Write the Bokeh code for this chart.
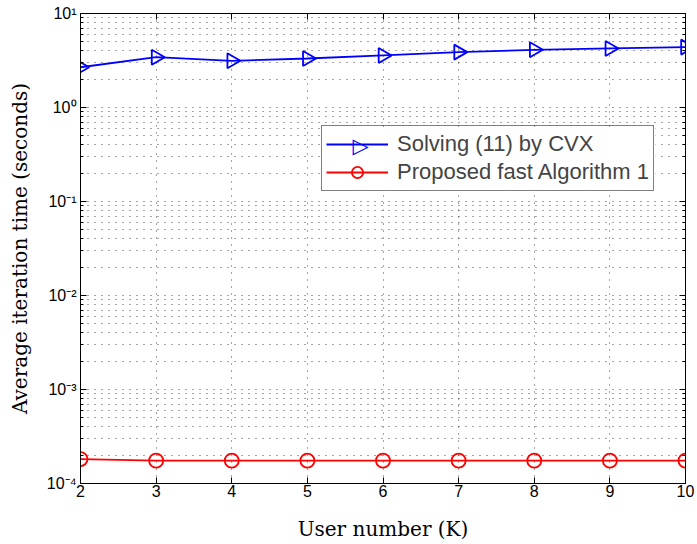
import numpy as np
from bokeh.plotting import figure
from bokeh.models import (LogAxis, LinearAxis, FixedTicker, CustomJSTickFormatter,
                          Legend, LegendItem, Range1d, Label, BoxAnnotation)
from bokeh.embed import file_html
from bokeh.resources import INLINE

# ---- data ----
users = [2, 3, 4, 5, 6, 7, 8, 9, 10]
cvx_time = [2.68, 3.43, 3.14, 3.32, 3.58, 3.88, 4.11, 4.25, 4.39]
fast_time = [1.82e-4, 1.75e-4, 1.75e-4, 1.75e-4, 1.75e-4, 1.75e-4, 1.75e-4, 1.75e-4, 1.75e-4]
x_ticks = [2, 3, 4, 5, 6, 7, 8, 9, 10]
y_decades = [1e-4, 1e-3, 1e-2, 1e-1, 1e0, 1e1]
y_minor = [m * d for d in y_decades[:-1] for m in range(2, 10)]
series_labels = ["Solving (11) by CVX", "Proposed fast Algorithm 1"]

TICK_FONT = "Liberation Sans"
LABEL_FONT = "DejaVu Serif"
BLUE = "#0000ff"
RED = "#ff0000"

p = figure(width=696, height=543, x_range=Range1d(2, 10), y_range=Range1d(1e-4, 1e1),
           y_axis_type="log", output_backend="svg", toolbar_location=None,
           min_border_left=80, min_border_right=11, min_border_top=13, min_border_bottom=60)
p.background_fill_color = "white"
p.border_fill_color = "white"
p.outline_line_color = "black"
p.outline_line_width = 1

sup = """
const m = {"-":"\u207b","0":"\u2070","1":"\u00b9","2":"\u00b2","3":"\u00b3","4":"\u2074",
           "5":"\u2075","6":"\u2076","7":"\u2077","8":"\u2078","9":"\u2079"};
const e = Math.round(Math.log10(tick));
return "10" + String(e).split("").map(c => m[c]).join("");
"""

yt = FixedTicker(ticks=y_decades, minor_ticks=y_minor)
xt = FixedTicker(ticks=x_ticks, minor_ticks=[])

def style_axis(ax, labels=True):
    ax.axis_line_color = "black"
    ax.axis_line_width = 1
    ax.major_tick_in = 6
    ax.major_tick_out = 0
    ax.minor_tick_in = 3
    ax.minor_tick_out = 0
    ax.major_tick_line_color = "black"
    ax.minor_tick_line_color = "black"
    if labels:
        ax.major_label_text_font = TICK_FONT
        ax.major_label_text_font_size = "16px"
        ax.major_label_text_color = "black"
    else:
        ax.major_label_text_font_size = "0px"
        ax.major_label_text_alpha = 0

yax = p.yaxis[0]
yax.ticker = yt
yax.formatter = CustomJSTickFormatter(code=sup)
yax.axis_label = "Average iteration time (seconds)"
yax.axis_label_text_font = LABEL_FONT
yax.axis_label_text_font_size = "20px"
yax.axis_label_text_font_style = "normal"
yax.axis_label_text_color = "black"
yax.axis_label_standoff = 12
yax.major_label_standoff = 4
style_axis(yax)

xax = p.xaxis[0]
xax.ticker = xt
xax.axis_label = "User number (K)"
xax.axis_label_text_font = LABEL_FONT
xax.axis_label_text_font_size = "20px"
xax.axis_label_text_font_style = "normal"
xax.axis_label_text_color = "black"
xax.axis_label_standoff = 17
xax.major_label_standoff = 1
style_axis(xax)
xax.minor_tick_in = 0

rax = LogAxis(ticker=yt)
style_axis(rax, labels=False)
p.add_layout(rax, "right")
tax = LinearAxis(ticker=xt)
style_axis(tax, labels=False)
tax.minor_tick_in = 0
p.add_layout(tax, "above")

for g in (p.xgrid[0], p.ygrid[0]):
    g.grid_line_color = "black"
    g.grid_line_alpha = 0.7
    g.grid_line_dash = "1 6"
    g.grid_line_width = 1
p.xgrid[0].ticker = xt
p.ygrid[0].ticker = yt
p.ygrid[0].minor_grid_line_color = "black"
p.ygrid[0].minor_grid_line_alpha = 0.7
p.ygrid[0].minor_grid_line_dash = "1 6"

# white backdrop behind the (transparent) legend, hiding the grid there
LEG_X, LEG_Y, LEG_W, LEG_H = 241, 292, 334, 64
backdrop = BoxAnnotation(left=LEG_X, right=LEG_X + LEG_W, bottom=LEG_Y, top=LEG_Y + LEG_H,
                         left_units="screen", right_units="screen",
                         bottom_units="screen", top_units="screen",
                         fill_color="white", fill_alpha=1, line_alpha=0, level="underlay")
p.add_layout(backdrop)

l1 = p.line(users, cvx_time, line_color=BLUE, line_width=1.8)
s1 = p.scatter(users, cvx_time, marker="triangle", angle=-np.pi / 2, size=15,
               line_color=BLUE, line_width=1.8, fill_alpha=0)
l2 = p.line(users, fast_time, line_color=RED, line_width=1.8)
s2 = p.scatter(users, fast_time, marker="circle", size=14,
               line_color=RED, line_width=1.8, fill_alpha=0)

# right-pointing triangle marker for the first legend entry
tri = Label(x=280, y=338, x_units="screen", y_units="screen", text="\u25b7",
            text_font="DejaVu Sans", text_font_size="21px", text_color=BLUE,
            text_align="center", text_baseline="middle")
p.add_layout(tri)

legend = Legend(items=[LegendItem(label=series_labels[0], renderers=[l1]),
                       LegendItem(label=series_labels[1], renderers=[l2, s2])],
                location=(LEG_X, LEG_Y))
legend.border_line_color = "black"
legend.border_line_width = 1
legend.background_fill_alpha = 0
legend.label_text_font = TICK_FONT
legend.label_text_font_size = "22px"
legend.glyph_width = 62
legend.glyph_height = 28
legend.label_standoff = 9
legend.padding = 4
legend.spacing = 0
legend.margin = 0
p.add_layout(legend, "center")

open("out.html", "w").write(file_html(p, INLINE))
